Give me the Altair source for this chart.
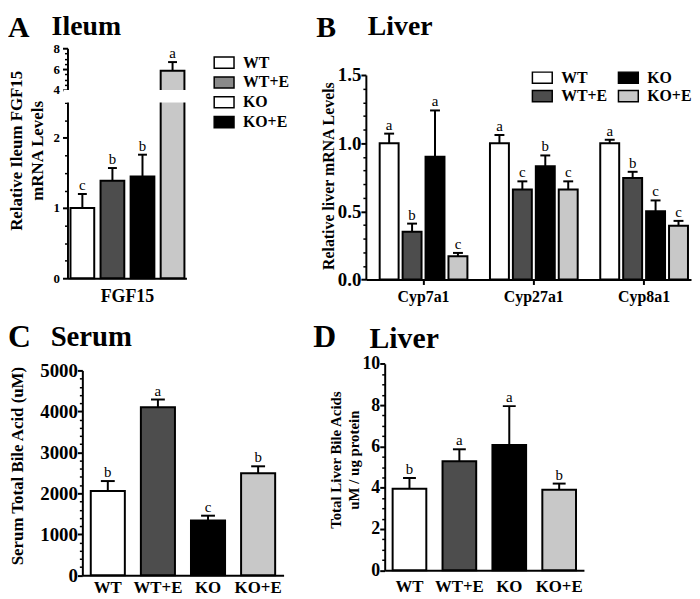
import altair as alt
import pandas as pd

# ---------------- data ----------------
groups = ["WT", "WT+E", "KO", "KO+E"]
bar_colors = ["#ffffff", "#4d4d4d", "#000000", "#c8c8c8"]

# Panel A - ileum FGF15
a_genes = ["FGF15"]
a_mean = [1.0, 1.39, 1.45, 5.84]
a_err = [0.20, 0.18, 0.31, 0.83]
a_letters = ["c", "b", "b", "a"]
a_legend_colors = ["#ffffff", "#8a8a8a", "#ffffff", "#000000"]
a_major_ticks = [0, 1, 2, 4, 6, 8]
a_minor_ticks = [0.25, 0.5, 0.75, 1.25, 1.5, 1.75, 2.25, 2.5, 4.5, 5, 5.5, 6.5, 7, 7.5]
a_break = [2.5, 4]

# Panel B - liver mRNA
b_genes = ["Cyp7a1", "Cyp27a1", "Cyp8a1"]
b_wt_mean = [1.0, 1.0, 1.0]
b_wte_mean = [0.35, 0.66, 0.745]
b_ko_mean = [0.90, 0.83, 0.50]
b_koe_mean = [0.17, 0.66, 0.395]
b_wt_err = [0.07, 0.06, 0.025]
b_wte_err = [0.06, 0.06, 0.045]
b_ko_err = [0.34, 0.08, 0.08]
b_koe_err = [0.025, 0.06, 0.035]
b_wt_let = ["a", "a", "a"]
b_wte_let = ["b", "c", "b"]
b_ko_let = ["a", "b", "c"]
b_koe_let = ["c", "c", "c"]
b_legend_colors = ["#ffffff", "#4d4d4d", "#000000", "#c8c8c8"]
b_major_ticks = [0, 0.5, 1.0, 1.5]
b_minor_ticks = [0.1, 0.2, 0.3, 0.4, 0.6, 0.7, 0.8, 0.9, 1.1, 1.2, 1.3, 1.4]

# Panel C - serum total bile acid
c_mean = [2060, 4100, 1340, 2490]
c_err = [240, 190, 115, 170]
c_letters = ["b", "a", "c", "b"]
c_major_ticks = [0, 1000, 2000, 3000, 4000, 5000]
c_minor_ticks = [200, 400, 600, 800, 1200, 1400, 1600, 1800, 2200, 2400, 2600, 2800,
                 3200, 3400, 3600, 3800, 4200, 4400, 4600, 4800]

# Panel D - liver total bile acids
d_mean = [3.95, 5.28, 6.07, 3.90]
d_err = [0.52, 0.58, 1.88, 0.30]
d_letters = ["b", "a", "a", "b"]
d_major_ticks = [0, 2, 4, 6, 8, 10]
d_minor_ticks = [0.5, 1, 1.5, 2.5, 3, 3.5, 4.5, 5, 5.5, 6.5, 7, 7.5, 8.5, 9, 9.5]

# ---------------- tables ----------------
dfA = pd.DataFrame({"gene": a_genes * 4, "group": groups, "mean": a_mean,
                    "err": a_err, "letter": a_letters})
rows = []
for g, m, e, l in zip(groups,
                      [b_wt_mean, b_wte_mean, b_ko_mean, b_koe_mean],
                      [b_wt_err, b_wte_err, b_ko_err, b_koe_err],
                      [b_wt_let, b_wte_let, b_ko_let, b_koe_let]):
    for gene, mv, ev, lv in zip(b_genes, m, e, l):
        rows.append({"gene": gene, "group": g, "mean": mv, "err": ev, "letter": lv})
dfB = pd.DataFrame(rows)
dfC = pd.DataFrame({"group": groups, "mean": c_mean, "err": c_err, "letter": c_letters})
dfD = pd.DataFrame({"group": groups, "mean": d_mean, "err": d_err, "letter": d_letters})
one = pd.DataFrame({"k": [0]})

# ---------------- styling helpers ----------------
SERIF = "Liberation Serif"
W, H = 690, 591
SW = "M-1.25,-0.7L1.25,-0.7L1.25,0.7L-1.25,0.7Z"


def lab_kw(size):
    return dict(labelFont=SERIF, labelFontWeight="bold", labelFontSize=size, labelColor="black")


def y_major(values, ax_x, fmt, size, pad, **title_kw):
    return alt.Axis(orient="left", offset=-ax_x, values=values, format=fmt, grid=False, zindex=0,
                    domainColor="black", domainWidth=2, tickColor="black", tickWidth=2,
                    tickSize=5, labelPadding=pad, **lab_kw(size),
                    titleFont=SERIF, titleFontWeight="bold", titleColor="black",
                    titleAngle=270, titleAlign="center", titleBaseline="alphabetic", **title_kw)


def y_minor(values, ax_x):
    return alt.Axis(orient="left", offset=-ax_x, values=values, grid=False, zindex=0,
                    labels=False, domain=False, tickColor="black", tickWidth=1.5, tickSize=3)


def x_axis(ax_y, size, ticks, pad):
    return alt.Axis(orient="bottom", offset=ax_y - H, grid=False, zindex=0, labelAngle=0,
                    domainColor="black", domainWidth=2, ticks=ticks, tickColor="black",
                    tickWidth=2, tickSize=5 if ticks else 0, labelPadding=pad, **lab_kw(size))


def panel(df, xf, xs, xos, ys, ymaj, ymin, ytitle, xax, cap, extra=()):
    base = alt.Chart(df).transform_calculate(top="datum.mean + datum.err")

    def xe(axis):
        d = {"x": alt.X(f"{xf}:N", scale=xs, axis=axis, title=None)}
        if xos is not None:
            d["xOffset"] = alt.XOffset("group:N", scale=xos)
        return d

    bars = base.mark_bar(stroke="black", strokeWidth=2, opacity=1).encode(
        y=alt.Y("mean:Q", scale=ys, axis=ymaj, title=ytitle),
        color=alt.Color("group:N", scale=alt.Scale(domain=groups, range=bar_colors), legend=None),
        **xe(xax))
    rules = base.mark_rule(color="black", strokeWidth=2).encode(
        y=alt.Y("mean:Q", scale=ys, axis=ymin, title=None), y2="top:Q", **xe(None))
    caps = base.mark_tick(color="black", orient="horizontal", size=cap, thickness=2,
                          opacity=1).encode(
        y=alt.Y("top:Q", scale=ys, axis=None), **xe(None))
    lets = base.mark_text(font=SERIF, fontSize=15, color="black", fill="black",
                          baseline="alphabetic", dy=-4).encode(
        y=alt.Y("top:Q", scale=ys, axis=None), text="letter:N", **xe(None))
    return alt.layer(bars, rules, caps, lets, *extra).resolve_scale(
        color="independent").resolve_axis(x="independent", y="independent")


def legend_layer(order, colors, lx, ly, cols, rowpad, colpad):
    leg = alt.Legend(orient="none", legendX=lx, legendY=ly, columns=cols, symbolType=SW,
                     symbolSize=256, symbolStrokeColor="black", symbolStrokeWidth=1.5,
                     symbolOpacity=1, labelFont=SERIF, labelFontWeight="bold", labelFontSize=16,
                     labelColor="black", labelOffset=10, rowPadding=rowpad,
                     columnPadding=colpad, padding=0)
    return alt.Chart(pd.DataFrame({"group": order})).mark_point(
        shape=SW, filled=True, size=256, stroke="black", strokeWidth=1.5, opacity=1).encode(
        x=alt.value(-60), y=alt.value(-60),
        color=alt.Color("group:N", scale=alt.Scale(domain=order, range=colors),
                        legend=leg, title=None))


def text(t, x, y, size, weight="bold"):
    return alt.Chart(one).mark_text(text=t, font=SERIF, fontWeight=weight, fontSize=size,
                                    align="left", baseline="alphabetic", color="black").encode(
        x=alt.value(x), y=alt.value(y))


# ---------------- panel A ----------------
yA = alt.Scale(domain=[0, a_break[0], a_break[1], 8], range=[270, 93, 80, 38], nice=False, zero=False)
xA = alt.Scale(domain=a_genes, range=[60, 180], paddingInner=0, paddingOuter=0.022, align=0.6)
xoA = alt.Scale(domain=groups, paddingInner=0.21, paddingOuter=0)
brk = alt.Chart(pd.DataFrame({"lo": [a_break[0] + 0.03], "hi": [a_break[1] - 0.02]})).mark_rect(
    color="white").encode(x=alt.value(56), x2=alt.value(185),
                          y=alt.Y("lo:Q", scale=yA, axis=None), y2="hi:Q")
pA = panel(dfA, "gene", xA, xoA, yA,
           y_major(a_major_ticks, 60, "d", 13, 3, titleX=-46, titleY=141, titleFontSize=17,
                   titleLineHeight=21),
           y_minor(a_minor_ticks, 60),
           ["Relative  Ileum  FGF15", "mRNA Levels"],
           x_axis(270, 18, False, 9), 9,
           extra=(brk, legend_layer(groups, a_legend_colors, 209, 43.5, 1, 2, 0)))

# ---------------- panel B ----------------
yB = alt.Scale(domain=[0, 1.5], range=[271.3, 65], nice=False, zero=False)
xB = alt.Scale(domain=b_genes, range=[361, 689], paddingInner=0.2045, paddingOuter=0.0764, align=0.82)
xoB = alt.Scale(domain=groups, paddingInner=0.174, paddingOuter=0)
pB = panel(dfB, "gene", xB, xoB, yB,
           y_major(b_major_ticks, 361, ".1f", 19, 0, titleX=-33, titleY=166.5, titleFontSize=16),
           y_minor(b_minor_ticks, 361),
           "Relative  liver mRNA Levels",
           x_axis(271.3, 16, True, 4), 10,
           extra=(legend_layer(groups, b_legend_colors, 530, 58.5, 2, 0.8, 7.8),))

# ---------------- panel C ----------------
yC = alt.Scale(domain=[0, 5000], range=[569.7, 363], nice=False, zero=False)
xC = alt.Scale(domain=groups, range=[75, 278], paddingInner=0.32, paddingOuter=0.168)
pC = panel(dfC, "group", xC, None, yC,
           y_major(c_major_ticks, 75, "d", 19, 0, titleX=-60, titleY=459, titleFontSize=17),
           y_minor(c_minor_ticks, 75),
           "Serum Total Bile Acid (uM)",
           x_axis(569.7, 17, False, 4), 14)

# ---------------- panel D ----------------
yD = alt.Scale(domain=[0, 10], range=[564.7, 356.3], nice=False, zero=False)
xD = alt.Scale(domain=groups, range=[380, 581], paddingInner=0.325, paddingOuter=0.159)
pD = panel(dfD, "group", xD, None, yD,
           y_major(d_major_ticks, 380, "d", 18, 0, titleX=-45, titleY=453, titleFontSize=15,
                   titleLineHeight=19),
           y_minor(d_minor_ticks, 380),
           ["Total Liver Bile Acids", "uM / ug protein"],
           x_axis(564.7, 17, False, 8), 13)

titles = [
    text("A", 0, 27, 30), text("Ileum", 44, 25, 28),
    text("B", 311, 27, 30), text("Liver", 363, 25, 28),
    text("C", 0, 339, 32), text("Serum", 43, 338, 29),
    text("D", 308, 339, 32), text("Liver", 364.7, 340, 30),
]

chart = alt.layer(pA, pB, pC, pD, *titles).resolve_scale(
    x="independent", y="independent", xOffset="independent", color="independent"
).resolve_axis(x="independent", y="independent").resolve_legend(color="independent").properties(
    width=W, height=H, padding=0, autosize=alt.AutoSizeParams(type="none")
).configure_view(strokeWidth=0)

chart.save("out.html", embed_options={"renderer": "svg", "actions": False})
